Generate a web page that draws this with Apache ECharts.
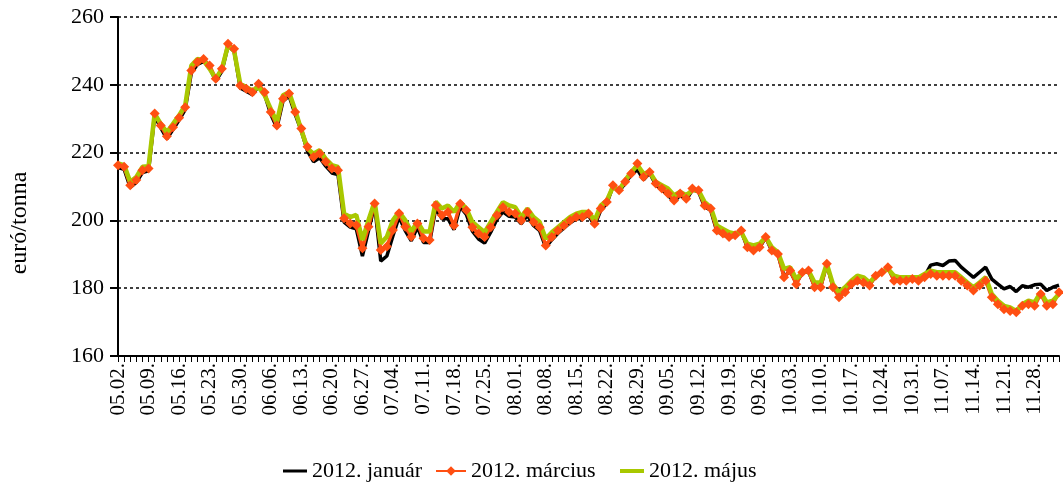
<!DOCTYPE html>
<html>
<head>
<meta charset="utf-8">
<script src="https://cdn.jsdelivr.net/npm/echarts@6/dist/echarts.min.js"></script>
<style>
  html, body { margin: 0; padding: 0; background: #fff; }
  #main { width: 1063px; height: 486px; }
</style>
</head>
<body>
<div id="main"></div>
<script>
// trading days, 2012-05-02 .. 2012-12-04
const days = [
  '05.02.','05.03.','05.04.','05.07.','05.08.','05.09.','05.10.','05.11.','05.14.','05.15.',
  '05.16.','05.17.','05.18.','05.21.','05.22.','05.23.','05.24.','05.25.','05.28.','05.29.',
  '05.30.','05.31.','06.01.','06.04.','06.05.','06.06.','06.07.','06.08.','06.11.','06.12.',
  '06.13.','06.14.','06.15.','06.18.','06.19.','06.20.','06.21.','06.22.','06.25.','06.26.',
  '06.27.','06.28.','06.29.','07.02.','07.03.','07.04.','07.05.','07.06.','07.09.','07.10.',
  '07.11.','07.12.','07.13.','07.16.','07.17.','07.18.','07.19.','07.20.','07.23.','07.24.',
  '07.25.','07.26.','07.27.','07.30.','07.31.','08.01.','08.02.','08.03.','08.06.','08.07.',
  '08.08.','08.09.','08.10.','08.13.','08.14.','08.15.','08.16.','08.17.','08.20.','08.21.',
  '08.22.','08.23.','08.24.','08.27.','08.28.','08.29.','08.30.','08.31.','09.03.','09.04.',
  '09.05.','09.06.','09.07.','09.10.','09.11.','09.12.','09.13.','09.14.','09.17.','09.18.',
  '09.19.','09.20.','09.21.','09.24.','09.25.','09.26.','09.27.','09.28.','10.01.','10.02.',
  '10.03.','10.04.','10.05.','10.08.','10.09.','10.10.','10.11.','10.12.','10.15.','10.16.',
  '10.17.','10.18.','10.19.','10.22.','10.23.','10.24.','10.25.','10.26.','10.29.','10.30.',
  '10.31.','11.01.','11.02.','11.05.','11.06.','11.07.','11.08.','11.09.','11.12.','11.13.',
  '11.14.','11.15.','11.16.','11.19.','11.20.','11.21.','11.22.','11.23.','11.26.','11.27.',
  '11.28.','11.29.','11.30.','12.03.','12.04.'
];

const januar = [
  215.6,215.1,209.7,211.2,214.1,214.6,230.8,227.3,224.1,226.8,
  229.6,232.7,243.5,246,246.9,245,241.1,244,251.4,249.9,
  239.1,238.1,237.1,239.6,237.1,231.3,227.3,235.2,236.7,231.3,
  226.4,220.5,217.3,218.5,216,214,213.5,199.5,198,197.5,
  189.5,197,204.5,188,189.5,195.5,201,197,194,198,
  193.5,193.5,203.5,200.5,200.5,197.3,204,201.8,196.8,194.5,
  193.3,196.5,200.3,202.5,201.2,201,199,201.5,198.5,197,
  192,194.3,196.2,197.8,199.3,200.5,200.5,201.5,198.5,203,
  205,210,208.5,211,213.5,215,212,214,210.5,209,
  207.5,205.5,207.5,206,209,208.5,204,203,196.8,195.8,
  195,195.4,196.8,192,191,192,195,191,190,183.5,
  185,181.5,184.5,185,180.5,180.5,187,180.5,177.8,179,
  181,182,181.5,181,183.5,184.5,186,182.5,182.5,182.5,
  182.7,182.5,183.5,186.8,187.2,186.7,188,188.2,186.2,184.7,
  183.2,184.7,186.2,182.7,181.2,179.8,180.5,179,180.7,180.3,
  181,181.2,179.3,180.3,180.9
];

const marcius = [
  216.3,215.8,210.4,211.9,214.8,215.3,231.5,228,224.8,227.5,
  230.3,233.4,244.2,246.7,247.6,245.7,241.8,244.7,252.1,250.6,
  239.8,238.8,237.8,240.3,237.8,232,228,235.9,237.4,232,
  227.1,221.7,218.7,219.7,217.3,215.3,214.8,200.6,199.1,198.6,
  191.8,198.1,205,191.3,192.3,197.2,202.1,198.1,195.2,199.1,
  194.7,194.2,204.5,201.5,202.5,198.5,204.9,203,198,196.1,
  195.1,198,201.5,203.9,202.5,202,200,202.5,199.5,198,
  192.6,195.1,197,198.5,200,201,201,202,199,203.5,
  205.4,210.4,208.9,211.4,213.8,216.8,212.8,214.3,210.9,209.4,
  207.9,205.9,207.9,206.4,209.4,208.9,204.4,203.5,197,196.1,
  195.1,195.6,197,192.1,191.1,192.1,195.1,191.1,190.1,183.2,
  185.2,181.2,184.7,185.2,180.3,180.3,187.2,180.3,177.3,178.8,
  181.2,182.2,181.7,180.8,183.7,184.7,186.2,182.2,182.2,182.2,
  182.7,182.2,183.2,184.2,183.7,183.7,183.7,183.7,182.2,180.8,
  179.3,180.8,182.2,177.3,175.3,173.8,173.3,172.9,174.8,175.3,
  174.8,178.3,174.8,175.3,178.8
];

const majus = [
  216.8,216.3,211.4,212.8,215.8,216,231.5,228.5,226,228.5,
  231,234,245.7,247.6,247.2,244.7,241.8,244.7,251.6,250,
  240.3,239.3,238.3,239.3,236.9,232.9,229,236.9,237.8,232.5,
  226.6,221.2,219.7,220.7,218.2,216.3,215.8,202,201,201.6,
  194.2,200.1,205.5,193.2,195.2,200.1,202.5,200.1,196.7,199.6,
  196.7,196.7,205.5,203.5,204.4,202.5,205.4,203.5,199.5,198,
  196.5,199.5,202.5,205.4,204.4,203.9,201,203.5,201,199.5,
  194.6,196.5,198,199.5,201,202,202.5,202.5,200,204.4,
  205.9,209.9,208.9,211.8,214.3,216.3,213.8,214.3,211.4,210.4,
  209.4,207.4,208.4,207.4,208.9,208.9,205.4,203.9,198.5,197.5,
  196.5,196.1,196.5,193.1,192.6,193.1,195.1,192.1,190.6,185.7,
  186.2,182.7,184.7,185.2,181.7,181.7,187.2,181.2,178.8,180.3,
  182.2,183.7,183.2,181.7,183.7,184.7,185.7,183.7,183.2,183.2,
  183.2,183.2,184.2,185.2,184.7,184.7,184.7,184.7,183.2,181.7,
  180.3,181.7,183.2,178.3,176.3,174.8,174.3,173.3,175.3,176.3,
  175.8,178.8,175.8,176.3,178.3
];

const yTicks = { min: 160, max: 260, step: 20 };
const seriesNames = ['2012. január', '2012. március', '2012. május'];

const font = '"Liberation Serif", "DejaVu Serif", serif';
const legendText = { fontFamily: font, fontSize: 22, color: '#000' };

let chart = echarts.init(document.getElementById('main'));
chart.setOption({
  animation: false,
  textStyle: { fontFamily: font },
  grid: { left: 118, right: 4, top: 17, bottom: 130 },
  legend: [
    {
      data: [seriesNames[0]], left: 278, top: 455,
      icon: 'rect', itemWidth: 24, itemHeight: 3,
      textStyle: legendText
    },
    {
      data: [seriesNames[1]], left: 430, top: 455,
      itemWidth: 30, itemHeight: 12,
      textStyle: legendText
    },
    {
      data: [seriesNames[2]], left: 615, top: 455,
      icon: 'rect', itemWidth: 24, itemHeight: 4,
      textStyle: legendText
    }
  ],
  graphic: [{
    type: 'text',
    x: 20,
    y: 223,
    rotation: Math.PI / 2,
    style: {
      text: 'euró/tonna',
      fontSize: 24,
      fontFamily: font,
      fill: '#000',
      align: 'center',
      verticalAlign: 'middle'
    }
  }],
  xAxis: {
    type: 'category',
    data: days,
    boundaryGap: false,
    axisLine: { lineStyle: { color: '#000', width: 2 } },
    axisTick: { interval: 0, length: 6, lineStyle: { color: '#000', width: 1 } },
    axisLabel: {
      interval: 4,
      rotate: 90,
      fontSize: 21,
      color: '#000',
      margin: 7,
      fontFamily: font
    },
    splitLine: { show: false }
  },
  yAxis: {
    type: 'value',
    min: yTicks.min,
    max: yTicks.max,
    interval: yTicks.step,
    axisLine: { show: true, lineStyle: { color: '#000', width: 2 } },
    axisTick: { show: true, length: 8, lineStyle: { color: '#000', width: 2 } },
    axisLabel: { fontSize: 22, color: '#000', margin: 14, fontFamily: font },
    splitLine: { lineStyle: { color: '#000', width: 1.5, type: [3, 3] } }
  },
  series: [
    {
      name: seriesNames[0],
      type: 'line',
      data: januar,
      symbol: 'none',
      lineStyle: { color: '#000', width: 3.5 },
      itemStyle: { color: '#000' }
    },
    {
      name: seriesNames[1],
      type: 'line',
      data: marcius,
      symbol: 'diamond',
      symbolSize: 10,
      showAllSymbol: true,
      lineStyle: { color: '#ff4f12', width: 3.5 },
      itemStyle: { color: '#ff4f12' }
    },
    {
      name: seriesNames[2],
      type: 'line',
      data: majus,
      symbol: 'none',
      lineStyle: { color: '#a8c800', width: 4.5 },
      itemStyle: { color: '#a8c800' }
    }
  ]
});
</script>
</body>
</html>
